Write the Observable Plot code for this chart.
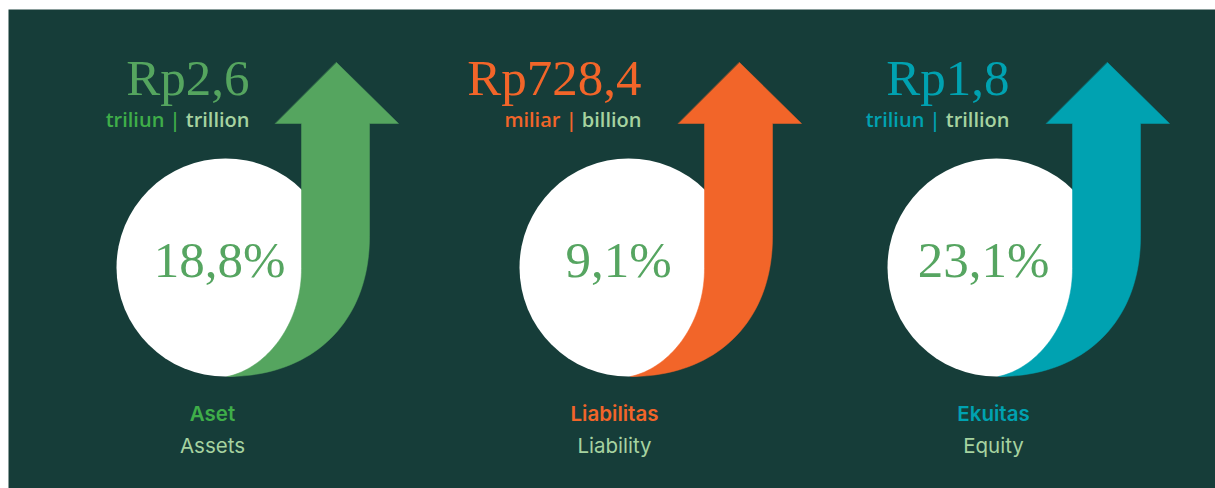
<!DOCTYPE html>
<html><head><meta charset="utf-8">
<script src="https://cdn.jsdelivr.net/npm/d3@7"></script>
<script src="https://cdn.jsdelivr.net/npm/@observablehq/plot@0.6"></script>
<style>html,body{margin:0;padding:0;background:#fff;overflow:hidden;} #chart svg{display:block;max-width:none}</style>
</head><body><div id="chart"></div>
<script>
// ---- data ----
const labelsId = ["Aset", "Liabilitas", "Ekuitas"];
const labelsEn = ["Assets", "Liability", "Equity"];
const amounts = [2.6, 728.4, 1.8];
const unitsId = ["triliun", "miliar", "triliun"];
const unitsEn = ["trillion", "billion", "trillion"];
const growth = [18.8, 9.1, 23.1];

// ---- style / layout ----
const palette = ["#55a55f", "#f26529", "#00a2b1"];
const textPalette = ["#3fae49", "#f26529", "#00a2b1"];
const bg = "#163d39", lightGreen = "#a6d3a0", pctColor = "#56a561";
const W = 1215, H = 488;
const panelX = [225, 628, 996];
const amountOffset = [24, 13, 13];
const pctOffset = [-6, -10, -13];
const labelOffset = [-13, -14, -3];
const circleY = 267, circleR = 109;
const serif = "'Liberation Serif', serif";
const sans = "'Open Sans', sans-serif";
const labelFont = "Inter, sans-serif";
const unitSize = 20;

const loc = d3.formatLocale({decimal: ",", thousands: ".", grouping: [3], currency: ["Rp", ""]});
const f1 = loc.format(".1f");

const ctx = document.createElement("canvas").getContext("2d");
ctx.font = `600 ${unitSize}px 'Open Sans'`;

const panels = labelsId.map((id, i) => {
  const cx = panelX[i];
  const right = cx + amountOffset[i];
  const wEn = ctx.measureText(" " + unitsEn[i]).width;
  return {
    i, cx, cy: circleY, right, idX: right - wEn,
    labelX: cx + labelOffset[i], pctX: cx + pctOffset[i],
    id, en: labelsEn[i],
    amount: "Rp" + f1(amounts[i]),
    uid: unitsId[i] + " |", uen: unitsEn[i],
    pct: f1(growth[i]) + "%"
  };
});

// arrow outline template (offset from panel centre, absolute y)
function bez(p0, p1, p2, p3, n) {
  const out = [];
  for (let k = 1; k <= n; k++) {
    const t = k / n, u = 1 - t;
    out.push([
      u*u*u*p0[0] + 3*u*u*t*p1[0] + 3*u*t*t*p2[0] + t*t*t*p3[0],
      u*u*u*p0[1] + 3*u*u*t*p1[1] + 3*u*t*t*p2[1] + t*t*t*p3[1]
    ]);
  }
  return out;
}
const template = [
  [111, 62], [173, 123], [144, 123], [144, 236],
  ...bez([144, 236], [144, 322], [87, 376], [2, 376], 40),
  ...bez([2, 376], [40, 368], [76, 325], [76, 268], 40),
  [76, 123], [50, 123]
];
const arrows = panels.map(p => template.map(([dx, y]) => ({x: p.cx + dx, y})));

const marks = [
  Plot.frame({fill: bg, stroke: "none", insetLeft: 8, insetTop: 9, insetRight: -2, insetBottom: -2}),
  Plot.dot(panels, {x: "cx", y: "cy", r: circleR, fill: "white", stroke: "none"}),
  ...arrows.map((a, i) => Plot.line(a, {x: "x", y: "y", fill: palette[i], stroke: palette[i], strokeWidth: 0.5, curve: "linear-closed"})),
  Plot.text(panels, {x: "pctX", y: () => 276, text: "pct", fill: pctColor, fontFamily: serif, fontSize: 51, lineAnchor: "bottom", textAnchor: "middle"}),
  Plot.text(panels, {x: "right", y: () => 94, text: "amount", fill: (d) => palette[d.i], fontFamily: serif, fontSize: 51, lineAnchor: "bottom", textAnchor: "end"}),
  Plot.text(panels, {x: "right", y: () => 126, text: "uen", fill: lightGreen, fontFamily: sans, fontWeight: 600, fontSize: unitSize, lineAnchor: "bottom", textAnchor: "end"}),
  Plot.text(panels, {x: "idX", y: () => 126, text: "uid", fill: (d) => textPalette[d.i], fontFamily: sans, fontWeight: 600, fontSize: unitSize, lineAnchor: "bottom", textAnchor: "end"}),
  Plot.text(panels, {x: "labelX", y: () => 420, text: "id", fill: (d) => textPalette[d.i], fontFamily: labelFont, fontWeight: 600, fontSize: 20.5, lineAnchor: "bottom", textAnchor: "middle"}),
  Plot.text(panels, {x: "labelX", y: () => 452, text: "en", fill: lightGreen, fontFamily: labelFont, fontWeight: 400, fontSize: 20.5, lineAnchor: "bottom", textAnchor: "middle"})
];

const chart = Plot.plot({
  width: W, height: H,
  margin: 0,
  x: {type: "linear", domain: [0, W], range: [0, W], axis: null},
  y: {type: "linear", domain: [0, H], range: [0, H], axis: null},
  color: {type: "identity"},
  style: {background: "white", overflow: "hidden"},
  marks
});
document.getElementById("chart").append(chart);
</script>
</body></html>
